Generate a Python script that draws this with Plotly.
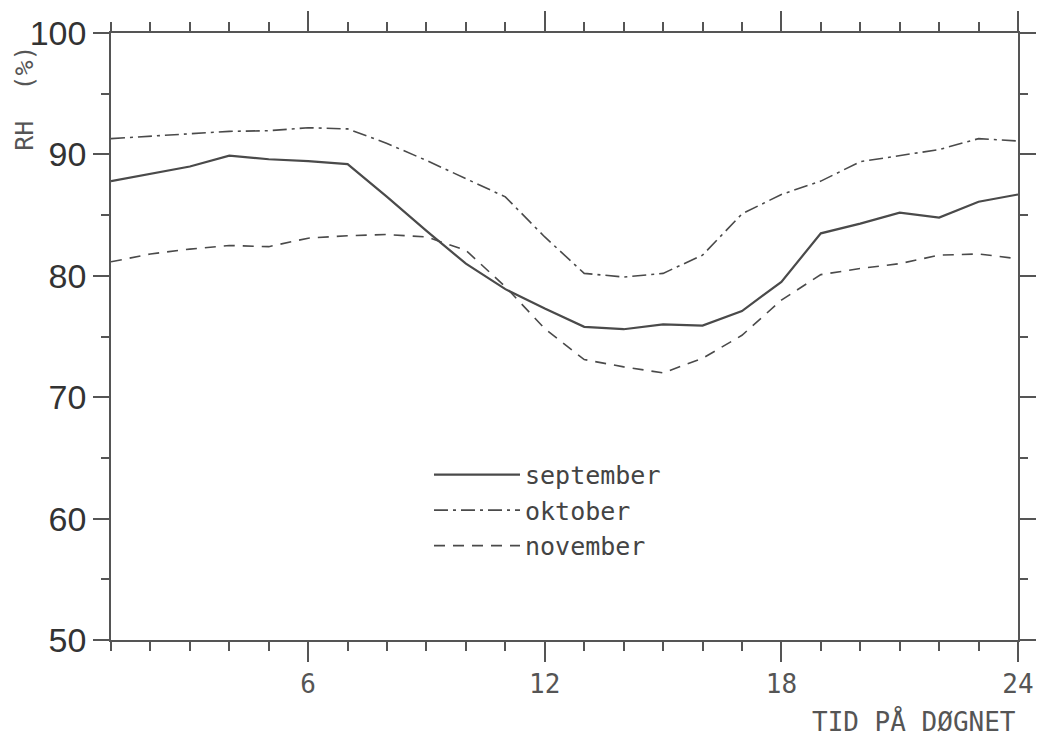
import plotly.graph_objects as go

hours = list(range(1, 25))
september = [87.8, 88.4, 89.0, 89.9, 89.6, 89.45, 89.2, 86.5, 83.7, 81.0, 78.9, 77.3,
             75.8, 75.6, 76.0, 75.9, 77.1, 79.5, 83.5, 84.3, 85.2, 84.8, 86.1, 86.7]
oktober = [91.3, 91.5, 91.7, 91.9, 91.95, 92.2, 92.1, 90.9, 89.5, 88.0, 86.5, 83.2,
           80.2, 79.9, 80.2, 81.7, 85.1, 86.7, 87.8, 89.4, 89.9, 90.4, 91.3, 91.1]
november = [81.15, 81.8, 82.2, 82.5, 82.4, 83.1, 83.3, 83.4, 83.2, 82.1, 79.1, 75.65,
            73.1, 72.5, 72.0, 73.2, 75.1, 78.0, 80.1, 80.6, 81.0, 81.7, 81.8, 81.4]

x_tickvals = [6, 12, 18, 24]
y_tickvals = [50, 60, 70, 80, 90, 100]

LINE = "#4a4a4a"
AX = "#555555"
MONO = "DejaVu Sans Mono"

fig = go.Figure()
fig.add_trace(go.Scatter(x=hours, y=september, mode="lines", name="september",
                         line=dict(color=LINE, width=2.2)))
fig.add_trace(go.Scatter(x=hours, y=oktober, mode="lines", name="oktober",
                         line=dict(color=LINE, width=1.6, dash="14px,5px,3px,5px")))
fig.add_trace(go.Scatter(x=hours, y=november, mode="lines", name="november",
                         line=dict(color=LINE, width=1.6, dash="11px,8px")))

fig.update_layout(
    width=1041, height=737,
    margin=dict(l=111, r=23, t=33, b=97, autoexpand=False),
    paper_bgcolor="white", plot_bgcolor="white",
    showlegend=True,
    legend=dict(x=0.3506, y=0.31, xanchor="left", yanchor="top",
                bgcolor="rgba(0,0,0,0)", font=dict(family=MONO, size=25, color="#444"),
                itemwidth=86, tracegroupgap=0),
    xaxis=dict(range=[1, 24], tickvals=x_tickvals, ticktext=[str(v) for v in x_tickvals],
               automargin=False,
               showgrid=False, zeroline=False, showline=True, linecolor=AX, linewidth=1.5,
               mirror="allticks", ticks="outside", ticklen=20, tickwidth=1.5, tickcolor=AX,
               tickfont=dict(family=MONO, size=26, color="#555"),
               minor=dict(tickmode="linear", tick0=0, dtick=1, ticks="outside",
                          ticklen=9, tickwidth=1.5, tickcolor=AX)),
    yaxis=dict(range=[50, 100], tickvals=y_tickvals, ticktext=[str(v) for v in y_tickvals],
               automargin=False,
               showgrid=False, zeroline=False, showline=True, linecolor=AX, linewidth=1.5,
               mirror="allticks", ticks="outside", ticklen=16, tickwidth=1.5, tickcolor=AX,
               tickfont=dict(family="Liberation Sans", size=34, color="#333"),
               minor=dict(tickmode="linear", tick0=0, dtick=5, ticks="outside",
                          ticklen=8, tickwidth=1.5, tickcolor=AX)),
    annotations=[
        dict(text="RH  (%)", textangle=-90, xref="paper", yref="paper",
             x=-0.095, y=0.893, xanchor="center", yanchor="middle", showarrow=False,
             font=dict(family=MONO, size=25, color="#555")),
        dict(text="TID PÅ DØGNET", xref="paper", yref="paper",
             x=1.0, y=-0.135, xanchor="right", yanchor="middle", showarrow=False,
             font=dict(family=MONO, size=26, color="#555")),
    ],
)

fig.write_html("out.html")
